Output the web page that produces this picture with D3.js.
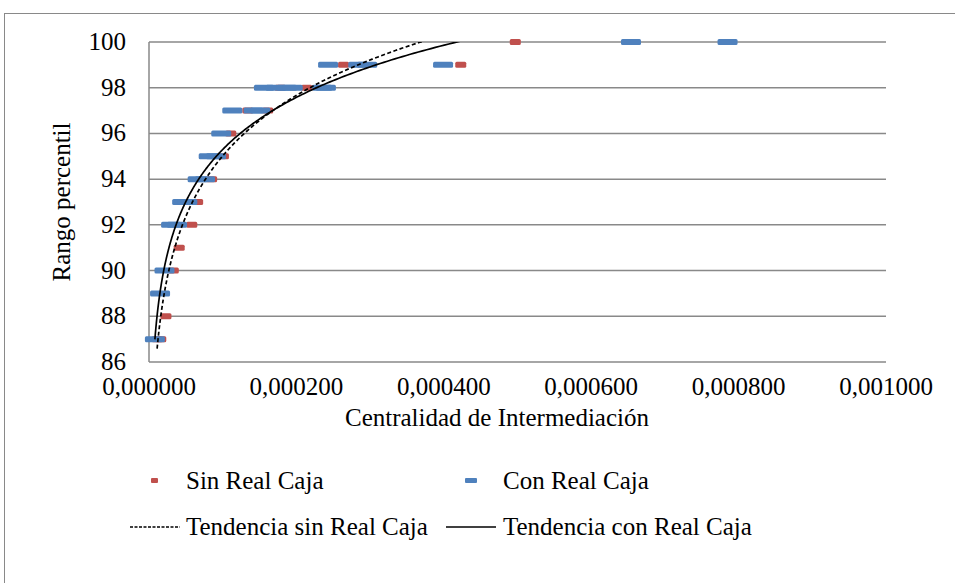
<!DOCTYPE html>
<html>
<head>
<meta charset="utf-8">
<script src="https://cdn.jsdelivr.net/npm/d3@7"></script>
<style>
  body { margin: 0; background: #fff; }
  svg { display: block; font-family: "Liberation Serif", "DejaVu Serif", serif; }
</style>
</head>
<body>
<svg id="svg" width="955" height="583"></svg>
<script>
// percentile rank (y) vs betweenness centrality (x)
const sinRank = [100, 99, 99, 98, 98, 97, 97, 96, 95, 94, 93, 92, 91, 90, 88, 87, 87];
const sinValue = [0.000497, 0.000264, 0.000423, 0.000178, 0.000214, 0.000134, 0.000161,
  0.000111, 0.000101, 0.000085, 0.000066, 0.000058, 0.000041, 0.000033, 0.000023, 0.000016, 0.000011];

const conRank = [100, 100, 99, 99, 99, 99, 98, 98, 98, 98, 98, 98, 97, 97, 97, 96, 95, 95,
  94, 94, 93, 93, 92, 92, 90, 89, 87];
const conValue = [0.000654, 0.000785, 0.000243, 0.000284, 0.000296, 0.000399,
  0.000156, 0.000172, 0.000187, 0.000195, 0.000235, 0.000240,
  0.000113, 0.000142, 0.000151, 0.000098, 0.000081, 0.000091,
  0.000066, 0.000076, 0.000045, 0.000052, 0.000030, 0.000038, 0.000021, 0.000015, 0.000008];

// logarithmic trendlines y = a*ln(x) + b, coefficients
const sinTrend = { a: 3.82, b: 130.2 };
const conTrend = { a: 3.29, b: 125.6 };

const xTicks = [0, 0.0002, 0.0004, 0.0006, 0.0008, 0.001];
const yTicks = [86, 88, 90, 92, 94, 96, 98, 100];

const legendLabels = ['Sin Real Caja', 'Con Real Caja', 'Tendencia sin Real Caja', 'Tendencia con Real Caja'];

const red = '#C0504D', blue = '#4F81BD', grid = '#898989';

const svg = d3.select('#svg');

// chart frame
svg.append('rect')
  .attr('x', 4.5).attr('y', 13.5)
  .attr('width', 1000).attr('height', 1000)
  .attr('fill', 'none').attr('stroke', grid).attr('stroke-width', 1);

const x = d3.scaleLinear().domain([0, 0.001]).range([149, 886]);
const y = d3.scaleLinear().domain([86, 100]).range([362, 42]);

const fmt = v => d3.format('.6f')(v).replace('.', ',');

// gridlines
svg.append('g').selectAll('line')
  .data(yTicks.slice(1))
  .join('line')
  .attr('x1', x(0)).attr('x2', x(0.001))
  .attr('y1', d => y(d)).attr('y2', d => y(d))
  .attr('stroke', grid).attr('stroke-width', 1.5);

// axes lines
svg.append('line')
  .attr('x1', x(0)).attr('x2', x(0.001)).attr('y1', y(86)).attr('y2', y(86))
  .attr('stroke', grid).attr('stroke-width', 1.5);
svg.append('line')
  .attr('x1', x(0)).attr('x2', x(0)).attr('y1', y(86)).attr('y2', y(100))
  .attr('stroke', grid).attr('stroke-width', 1.5);

// tick labels
svg.append('g').selectAll('text')
  .data(yTicks)
  .join('text')
  .attr('x', 126).attr('y', d => y(d) + 8)
  .attr('text-anchor', 'end')
  .attr('font-size', 25)
  .text(d => d);

svg.append('g').selectAll('text')
  .data(xTicks)
  .join('text')
  .attr('x', d => x(d)).attr('y', 395)
  .attr('text-anchor', 'middle')
  .attr('font-size', 25)
  .text(fmt);

// axis titles
svg.append('text')
  .attr('transform', 'translate(70,202) rotate(-90)')
  .attr('text-anchor', 'middle')
  .attr('font-size', 25)
  .text('Rango percentil');

svg.append('text')
  .attr('x', 497).attr('y', 426)
  .attr('text-anchor', 'middle')
  .attr('font-size', 25)
  .text('Centralidad de Intermediación');

svg.append('clipPath').attr('id', 'plot')
  .append('rect').attr('x', 0).attr('y', y(100)).attr('width', 955).attr('height', y(86) - y(100) + 20);

function trendLine(t, values, dash) {
  const lo = d3.min(values), hi = d3.max(values);
  const steps = d3.range(0, 301).map(i => lo * Math.pow(hi / lo, i / 300));
  const line = d3.line()
    .x(d => x(d))
    .y(d => y(t.a * Math.log(d) + t.b));
  svg.append('path')
    .attr('clip-path', 'url(#plot)')
    .attr('d', line(steps))
    .attr('fill', 'none')
    .attr('stroke', '#000')
    .attr('stroke-width', 1.7)
    .attr('stroke-dasharray', dash ? '4,2.5' : null);
}

// markers: red series first, blue on top
svg.append('g').selectAll('rect')
  .data(sinValue.map((v, i) => [v, sinRank[i]]))
  .join('rect')
  .attr('x', d => x(d[0]) - 5.5).attr('y', d => y(d[1]) - 3)
  .attr('width', 11).attr('height', 6).attr('rx', 1.5)
  .attr('fill', red);

svg.append('g').selectAll('rect')
  .data(conValue.map((v, i) => [v, conRank[i]]))
  .join('rect')
  .attr('x', d => x(d[0]) - 10).attr('y', d => y(d[1]) - 3)
  .attr('width', 20).attr('height', 6).attr('rx', 1.5)
  .attr('fill', blue);

trendLine(sinTrend, sinValue, true);
trendLine(conTrend, conValue, false);

// legend: second column sits right after the longest first-column label
const lg = svg.append('g').attr('font-size', 25);
lg.append('rect').attr('x', 151).attr('y', 478).attr('width', 7).attr('height', 5).attr('rx', 1).attr('fill', red);
lg.append('rect').attr('x', 465).attr('y', 478).attr('width', 12).attr('height', 5).attr('rx', 1).attr('fill', blue);
lg.append('line').attr('x1', 130).attr('x2', 180).attr('y1', 527).attr('y2', 527)
  .attr('stroke', '#000').attr('stroke-width', 1.4).attr('stroke-dasharray', '3,1.5');
lg.append('line').attr('x1', 446).attr('x2', 496).attr('y1', 527).attr('y2', 527)
  .attr('stroke', '#000').attr('stroke-width', 1.7);
lg.selectAll('text')
  .data(legendLabels)
  .join('text')
  .attr('x', (d, i) => i % 2 ? 503 : 186)
  .attr('y', (d, i) => i < 2 ? 489 : 535)
  .text(d => d);
</script>
</body>
</html>
